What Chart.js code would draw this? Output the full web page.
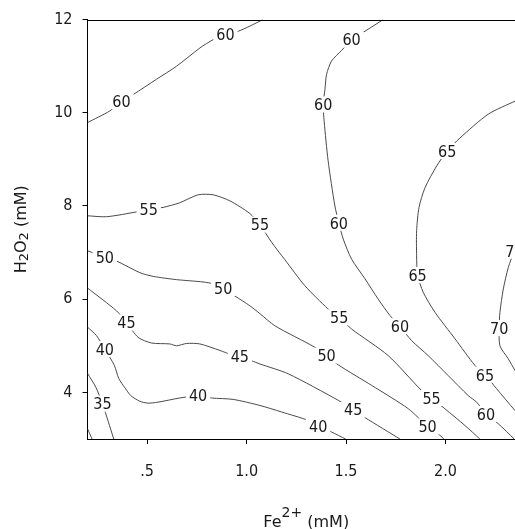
<!DOCTYPE html>
<html><head><meta charset="utf-8">
<script src="https://cdn.jsdelivr.net/npm/chart.js@4.4.1/dist/chart.umd.min.js"></script>
<style>
html,body{margin:0;padding:0;background:#fff;overflow:hidden;width:515px;height:529px}
#wrap{position:absolute;left:0;top:0;width:525px;height:529px}
</style>
</head><body>
<div id="wrap"><canvas id="c" width="525" height="529"></canvas></div>
<script>
// Axis ticks
const xTicks = [0.5, 1.0, 1.5, 2.0];
const xTickLabels = ['.5', '1.0', '1.5', '2.0'];
const yTicks = [4, 6, 8, 10, 12];
const yTickLabels = ['4', '6', '8', '10', '12'];

// Contour lines (Fe2+ mM, H2O2 mM)
const c30 = [[0.2,3.22],[0.223,3.0]];
const c35 = [[0.2,4.41],[0.242,4.11],[0.275,3.76],[0.304,3.38],[0.332,3.0]];
const c40 = [[0.2,5.40],[0.245,5.22],[0.287,4.93],[0.335,4.58],[0.357,4.30],[0.388,4.10],[0.418,3.93],[0.463,3.81],[0.503,3.77],[0.554,3.79],[0.664,3.88],[0.756,3.93],[0.824,3.88],[0.932,3.85],[1.067,3.72],[1.176,3.58],[1.310,3.40],[1.360,3.28],[1.427,3.15],[1.498,3.0]];
const c45 = [[0.2,6.24],[0.346,5.75],[0.396,5.50],[0.455,5.18],[0.522,5.06],[0.614,5.04],[0.648,5.00],[0.698,5.05],[0.765,5.04],[0.866,4.90],[0.924,4.81],[0.966,4.78],[1.025,4.68],[1.067,4.61],[1.209,4.40],[1.461,3.83],[1.536,3.63],[1.595,3.46],[1.771,3.0]];
const c50 = [[0.2,7.04],[0.287,6.90],[0.346,6.82],[0.463,6.57],[0.530,6.49],[0.648,6.42],[0.781,6.37],[0.832,6.33],[0.882,6.24],[0.941,6.07],[1.016,5.86],[1.067,5.69],[1.142,5.43],[1.343,4.97],[1.402,4.79],[1.461,4.59],[1.629,4.15],[1.813,3.65],[1.910,3.27],[1.972,3.08],[1.992,3.0]];
const c55 = [[0.2,7.79],[0.296,7.77],[0.455,7.88],[0.508,7.93],[0.580,7.97],[0.664,8.07],[0.756,8.24],[0.832,8.24],[0.916,8.11],[1.016,7.84],[1.067,7.60],[1.126,7.22],[1.192,6.85],[1.293,6.29],[1.410,5.79],[1.466,5.61],[1.528,5.36],[1.712,4.79],[1.880,4.04],[1.930,3.88],[1.997,3.65],[2.098,3.29],[2.173,3.0]];
const c60a = [[0.2,9.79],[0.312,10.04],[0.371,10.25],[0.429,10.39],[0.547,10.72],[0.648,11.0],[0.765,11.39],[0.832,11.57],[0.894,11.68],[0.958,11.75],[1.016,11.86],[1.082,12.0]];
const c60b = [[1.687,12.0],[1.595,11.75],[1.528,11.57],[1.478,11.34],[1.427,11.11],[1.402,10.82],[1.394,10.50],[1.385,10.18],[1.390,9.82],[1.410,8.97],[1.444,8.00],[1.464,7.64],[1.486,7.29],[1.528,6.86],[1.595,6.44],[1.662,6.00],[1.721,5.65],[1.771,5.42],[1.830,5.11],[1.913,4.79],[2.014,4.36],[2.115,3.93],[2.157,3.79],[2.204,3.54],[2.265,3.33],[2.346,3.0]];
const c65 = [[2.40,10.34],[2.350,10.25],[2.215,9.97],[2.073,9.46],[2.009,9.18],[1.956,8.86],[1.897,8.39],[1.867,7.97],[1.855,7.47],[1.855,6.93],[1.860,6.52],[1.888,6.15],[1.947,5.72],[2.048,5.15],[2.148,4.58],[2.199,4.38],[2.257,4.08],[2.350,3.61],[2.40,3.38]];
const c70 = [[2.40,7.51],[2.347,7.04],[2.316,6.68],[2.291,6.22],[2.274,5.72],[2.270,5.38],[2.274,5.00],[2.316,4.72],[2.350,4.47],[2.40,4.15]];

// Contour labels: [x, y, text]
const contourLabels = [
  [0.371,10.25,'60'],[0.894,11.68,'60'],[1.528,11.57,'60'],[1.385,10.18,'60'],[1.464,7.64,'60'],[1.771,5.42,'60'],[2.204,3.54,'60'],
  [2.009,9.18,'65'],[1.860,6.52,'65'],[2.199,4.38,'65'],
  [2.347,7.04,'70'],[2.270,5.38,'70'],
  [0.508,7.93,'55'],[1.067,7.60,'55'],[1.466,5.61,'55'],[1.930,3.88,'55'],
  [0.287,6.90,'50'],[0.882,6.24,'50'],[1.402,4.79,'50'],[1.910,3.27,'50'],
  [0.396,5.50,'45'],[0.966,4.78,'45'],[1.536,3.63,'45'],
  [0.287,4.93,'40'],[0.756,3.93,'40'],[1.360,3.28,'40'],
  [0.275,3.76,'35']
];

const contours = [c30, c35, c40, c45, c50, c55, c60a, c60b, c65, c70];
const FONT = '"DejaVu Sans"';
const NUMFONT = '"DejaVu Sans Condensed", "Liberation Sans", sans-serif';

const datasets = contours.map(c => ({
  data: c.map(p => ({x: p[0], y: p[1]})),
  showLine: true, pointRadius: 0, borderColor: '#4a4a4a', borderWidth: 1,
  tension: 0.25, fill: false
}));

const labelPlugin = {
  id: 'contourLabels',
  afterDatasetsDraw(chart) {
    const ctx = chart.ctx, xs = chart.scales.x, ys = chart.scales.y;
    const size = 16;
    ctx.save();
    ctx.font = size + 'px ' + NUMFONT;
    ctx.textAlign = 'center';
    ctx.textBaseline = 'alphabetic';
    contourLabels.forEach(l => {
      const px = xs.getPixelForValue(l[0]), py = ys.getPixelForValue(l[1]);
      const w = ctx.measureText(l[2]).width;
      ctx.fillStyle = '#fff';
      ctx.fillRect(px - w/2 - 3, py - 8, w + 6, 16);
      ctx.fillStyle = '#1a1a1a';
      ctx.fillText(l[2], px, py + 0.729*size/2);
    });
    ctx.restore();
  }
};

const framePlugin = {
  id: 'frame',
  afterDraw(chart) {
    const ctx = chart.ctx, a = chart.chartArea;
    ctx.save();
    ctx.strokeStyle = '#000'; ctx.lineWidth = 1;
    ctx.beginPath();
    ctx.moveTo(a.left, Math.round(a.top) + 0.5);
    ctx.lineTo(a.right, Math.round(a.top) + 0.5);
    ctx.lineTo(a.right, a.bottom);
    ctx.stroke();
    // axis titles with sub/superscripts
    ctx.fillStyle = '#1a1a1a';
    ctx.textBaseline = 'alphabetic';
    ctx.textAlign = 'left';
    const drawParts = (parts) => {
      let tw = 0;
      parts.forEach(p => { ctx.font = p[1] + 'px ' + FONT; p.w = ctx.measureText(p[0]).width; tw += p.w; });
      let x = -tw/2;
      parts.forEach(p => { ctx.font = p[1] + 'px ' + FONT; ctx.fillText(p[0], x, p[2]); x += p.w; });
    };
    // x title
    ctx.save();
    ctx.translate((a.left + a.right)/2, 526.5);
    drawParts([['Fe',16,0],['2+',14,-10],[' (mM)',16,0]]);
    ctx.restore();
    // y title
    ctx.save();
    ctx.translate(26, (a.top + a.bottom)/2);
    ctx.rotate(-Math.PI/2);
    drawParts([['H',16,0],['2',13,2],['O',16,0],['2',13,2],[' (mM)',16,0]]);
    ctx.restore();
    ctx.restore();
  }
};

new Chart(document.getElementById('c'), {
  type: 'scatter',
  data: { datasets },
  options: {
    responsive: false, animation: false, devicePixelRatio: 1,
    layout: { padding: { top: 18, left: 0, right: 0, bottom: 0 } },
    plugins: { legend: { display: false }, tooltip: { enabled: false } },
    scales: {
      x: {
        type: 'linear', min: 0.2, max: 2.4, position: 'bottom',
        afterBuildTicks: s => { s.ticks = xTicks.map(v => ({value: v})); },
        afterFit: s => { s.height = 90; },
        ticks: { callback: (v, i) => xTickLabels[i], font: {family: NUMFONT, size: 16}, color: '#1a1a1a', padding: 18, maxRotation: 0 },
        grid: { display: true, drawOnChartArea: false, drawTicks: true, tickLength: 5, color: '#000' },
        border: { display: true, color: '#000', width: 1 }
      },
      y: {
        type: 'linear', min: 3, max: 12,
        afterBuildTicks: s => { s.ticks = yTicks.map(v => ({value: v})); },
        afterFit: s => { s.width = 87.5; },
        ticks: { callback: (v, i) => yTickLabels[i], font: {family: NUMFONT, size: 16}, color: '#1a1a1a', padding: 10 },
        grid: { display: true, drawOnChartArea: false, drawTicks: true, tickLength: 5, color: '#000' },
        border: { display: true, color: '#000', width: 1 }
      }
    }
  },
  plugins: [labelPlugin, framePlugin]
});
</script>
</body></html>
